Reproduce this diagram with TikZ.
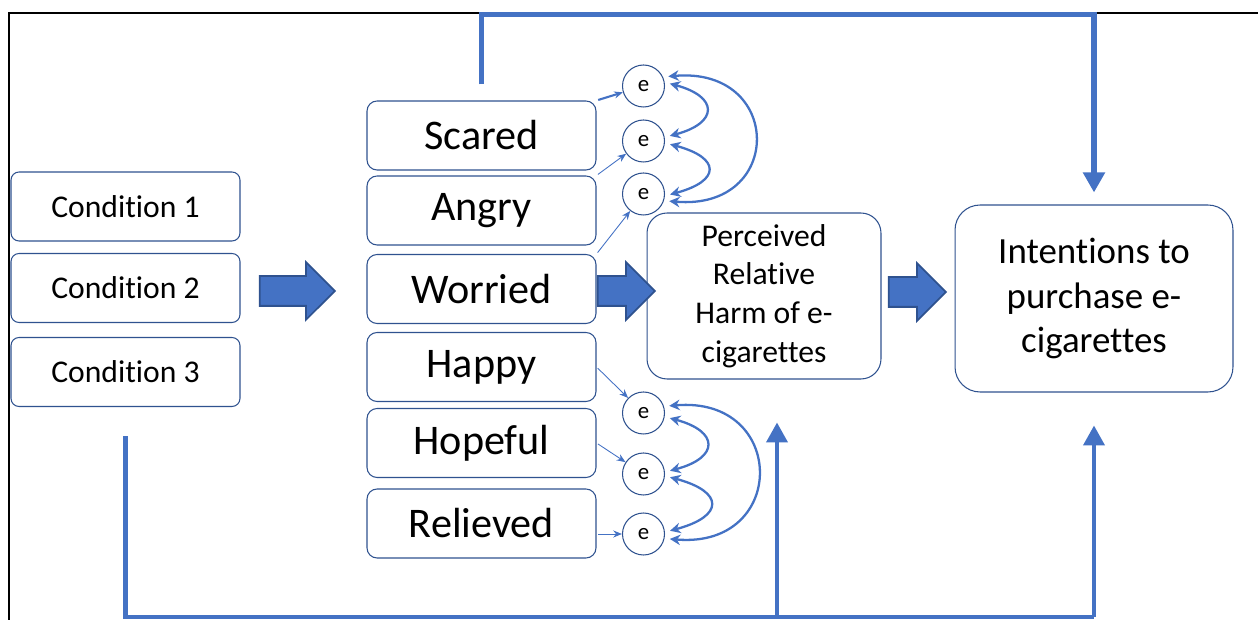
\documentclass[tikz,border=0pt]{standalone}
\usepackage{fontspec}
\setmainfont{Carlito}[Ligatures=NoCommon]
\usetikzlibrary{arrows.meta,shapes.arrows,calc}

\definecolor{accent}{HTML}{4472C4}
\definecolor{accentdark}{HTML}{2F528F}

\tikzset{
  condbox/.style={draw=accentdark, line width=0.6pt, fill=white,
    rounded corners=0.16cm, minimum width=4.58cm, minimum height=1.38cm,
    font=\fontsize{18}{22}\selectfont},
  emobox/.style={condbox, rounded corners=0.2cm,
    font=\fontsize{24}{29}\selectfont},
  errnode/.style={circle, draw=accentdark, line width=0.6pt, minimum size=0.84cm,
    inner sep=0pt, font=\fontsize{13}{15}\selectfont},
  outcome/.style={draw=accentdark, line width=0.6pt, align=center},
  blockarrow/.style={single arrow, draw=accentdark, fill=accent, line width=1pt,
    minimum width=1.12cm, single arrow head extend=0.28cm,
    single arrow head indent=0pt, inner xsep=0pt, inner ysep=0.28cm, anchor=tip},
  toerr/.style={accent, line width=0.5pt, -{Stealth[length=5pt,width=4pt]},
    shorten <=1pt},
  corr/.style={accent, line width=1.3pt,
    {Stealth[length=6pt,width=6pt]}-{Stealth[length=6pt,width=6pt]},
    shorten <=3pt, shorten >=3pt},
  link/.style={accent, line width=2.3pt},
  feedback/.style={accent, line width=3pt},
  bighead/.style={-{Triangle[length=0.4cm,width=0.42cm]}}
}

\begin{document}
\begin{tikzpicture}[x=0.02cm, y=0.02cm]
  %.
  \clip (0,0) rectangle (1258,619);
  \draw[black, line width=0.9pt] (9,606) rectangle (1275,-20);
  %.
  \node[condbox] (cond1) at (125.5,412.5) {Condition 1};
  \node[condbox] (cond2) at (125.5,331) {Condition 2};
  \node[condbox] (cond3) at (125.5,247) {Condition 3};
  %.
  \node[emobox] (scared)   at (481.5,483.5) {Scared};
  \node[emobox] (angry)    at (481.5,408.5) {Angry};
  \node[emobox] (worried)  at (481.5,330) {Worried};
  \node[emobox] (happy)    at (481.5,252) {Happy};
  \node[emobox] (hopeful)  at (481.5,176) {Hopeful};
  \node[emobox] (relieved) at (481.5,95.5) {Relieved};
  %.
  \node[errnode] (ea) at (643.5,533) {e};
  \node[errnode] (eb) at (643.5,478) {e};
  \node[errnode] (ec) at (643.5,425) {e};
  \node[errnode] (ed) at (643.5,206) {e};
  \node[errnode] (ee) at (643.5,145) {e};
  \node[errnode] (ef) at (643.5,85) {e};
  %.
  \node[outcome, rounded corners=0.4cm, minimum width=4.68cm, minimum height=3.32cm,
        font=\fontsize{18}{22}\selectfont] (harm) at (764,323)
        {Perceived\\Relative\\Harm of e-\\cigarettes};
  \node[outcome, rounded corners=0.5cm, minimum width=5.56cm, minimum height=3.74cm,
        font=\fontsize{21}{25.6}\selectfont] (intent) at (1094,320.5)
        {Intentions to\\purchase e-\\cigarettes};
  %.
  \node[blockarrow, minimum height=1.5cm]  (arrowa) at (336,328) {};
  \node[blockarrow, minimum height=1.14cm] (arrowb) at (656,328) {};
  \node[blockarrow, minimum height=1.14cm] (arrowc) at (947,327) {};
  %.
  \draw[toerr, line width=1.2pt] (scared.north east) -- (ea);
  \draw[toerr] (angry.north east) -- (eb);
  \draw[toerr] (worried.north east) -- (ec);
  \draw[toerr] (happy.east) -- (ed);
  \draw[toerr] (hopeful.east) -- (ee);
  \draw[toerr] (relieved.east |- ef) -- (ef);
  %.
  \draw[corr] (ea.10) to[out=-15, in=15, looseness=2.6] (eb.10);
  \draw[corr] (eb.-5) to[out=-15, in=15, looseness=2.8] (ec.-5);
  \draw[corr] (ea.25) to[out=5, in=-5, looseness=2.5] (ec.-18);
  \draw[corr] (ed.-10) to[out=-15, in=15, looseness=2.6] (ee.5);
  \draw[corr] (ee.-5) to[out=-15, in=15, looseness=2.8] (ef.5);
  \draw[corr] (ed.18) to[out=5, in=-5, looseness=2.4] (ef.-12);
  %.
  \draw[feedback, bighead, shorten >=0.24cm] ([yshift=0.32cm]scared.north)
    -- ++(0,70) -| (intent.north);
  \coordinate (base) at (126,2);
  \draw[link] ([yshift=-0.58cm]cond3.south) |- (intent.south |- base);
  \draw[link, bighead, shorten >=0.86cm] ([xshift=0.26cm]harm.south |- base)
    -- ([xshift=0.26cm]harm.south);
  \draw[link, bighead, shorten >=0.66cm] (intent.south |- base) -- (intent.south);
  %.
\end{tikzpicture}
\end{document}
